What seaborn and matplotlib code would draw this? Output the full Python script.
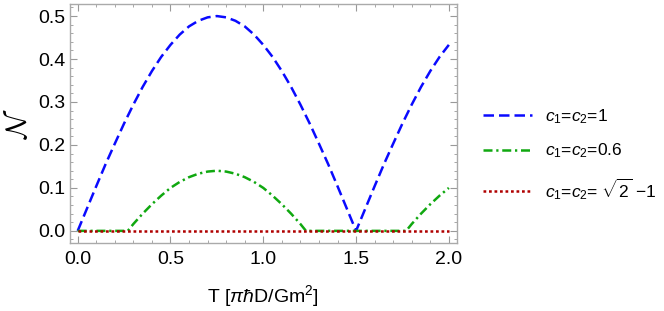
import numpy as np
import pandas as pd
import matplotlib as mpl
mpl.use('Agg')
import matplotlib.pyplot as plt
import seaborn as sns
from matplotlib.ticker import MultipleLocator

# values
T_blue = [0.00, 0.05, 0.10, 0.15, 0.20, 0.25, 0.30, 0.35, 0.40, 0.45, 0.50,
          0.55, 0.60, 0.65, 0.70, 0.75, 0.80, 0.85, 0.90, 0.95, 1.00,
          1.05, 1.10, 1.15, 1.20, 1.25, 1.30, 1.35, 1.40, 1.45, 1.50,
          1.55, 1.60, 1.65, 1.70, 1.75, 1.80, 1.85, 1.90, 1.95, 2.00]
N_blue = [0.000, 0.052, 0.104, 0.155, 0.203, 0.250, 0.294, 0.335, 0.372, 0.405, 0.433,
          0.457, 0.476, 0.489, 0.497, 0.500, 0.497, 0.489, 0.476, 0.457, 0.433,
          0.405, 0.372, 0.335, 0.294, 0.250, 0.203, 0.155, 0.104, 0.052, 0.000,
          0.052, 0.104, 0.155, 0.203, 0.250, 0.294, 0.335, 0.372, 0.405, 0.433]

T_green = [0.00, 0.10, 0.20, 0.27, 0.30, 0.35, 0.40, 0.45, 0.50, 0.55, 0.60,
           0.65, 0.70, 0.75, 0.80, 0.85, 0.90, 0.95, 1.00, 1.05, 1.10,
           1.15, 1.20, 1.23, 1.35, 1.50, 1.65, 1.77, 1.80, 1.85, 1.90, 1.95, 2.00]
N_green = [0.000, 0.000, 0.000, 0.000, 0.016, 0.040, 0.062, 0.082, 0.100, 0.114, 0.125,
           0.133, 0.138, 0.140, 0.138, 0.133, 0.125, 0.114, 0.100, 0.082, 0.062,
           0.040, 0.016, 0.000, 0.000, 0.000, 0.000, 0.000, 0.016, 0.040, 0.062, 0.082, 0.100]

T_red = [0.00, 0.50, 1.00, 1.50, 2.00]
N_red = [0.0, 0.0, 0.0, 0.0, 0.0]

labels = [r'$c_1$=$c_2$=1', r'$c_1$=$c_2$=0.6', r'$c_1$=$c_2$= $\sqrt{2}$ $-$1']

sns.set_style('ticks')
plt.rcParams['font.family'] = ['Liberation Sans', 'DejaVu Sans']
plt.rcParams['mathtext.fontset'] = 'custom'
plt.rcParams['mathtext.rm'] = 'Liberation Sans'
plt.rcParams['mathtext.it'] = 'Liberation Sans:italic'
plt.rcParams['text.color'] = 'black'
plt.rcParams['axes.labelcolor'] = 'black'

fig = plt.figure(figsize=(6.64, 3.11), dpi=100)
ax = fig.add_axes([0.105, 0.219, 0.583, 0.768])

sns.lineplot(x=T_blue, y=N_blue, ax=ax, color='#0a0aff', lw=1.8, label=labels[0])
ax.lines[-1].set_dashes([4.2, 2.0])
sns.lineplot(x=T_green, y=N_green, ax=ax, color='#10a810', lw=1.8, label=labels[1])
ax.lines[-1].set_dashes([3.6, 1.5, 0.9, 1.5])
sns.lineplot(x=T_red, y=N_red, ax=ax, color='#b00000', lw=1.8, label=labels[2])
ax.lines[-1].set_dashes([1.1, 1.1])

ax.set_xlim(-0.043, 2.043)
ax.set_ylim(-0.028, 0.528)
ax.xaxis.set_major_locator(MultipleLocator(0.5))
ax.xaxis.set_minor_locator(MultipleLocator(0.1))
ax.yaxis.set_major_locator(MultipleLocator(0.1))
ax.yaxis.set_minor_locator(MultipleLocator(0.02))
ax.tick_params(which='both', direction='in', top=True, right=True, color='#999999',
               labelsize=14, labelcolor='black')
ax.tick_params(which='major', length=5, width=0.8)
ax.tick_params(which='minor', length=2.5, width=0.6)
ax.tick_params(axis='x', pad=6)
ax.tick_params(axis='y', pad=3)
for s in ax.spines.values():
    s.set_color('#aaaaaa')
    s.set_linewidth(1.0)

ax.set_xlabel(r'T [$\pi\hbar$D/Gm$^2$]', fontsize=14, labelpad=11)
ax.set_ylabel(r'$\mathcal{N}$', fontsize=21, math_fontfamily='cm', labelpad=4)

ax.legend(loc='center left', bbox_to_anchor=(1.027, 0.37), frameon=False, fontsize=12.5,
          handlelength=2.8, labelspacing=0.9, handletextpad=0.8)

fig.savefig('out.png', dpi=100)
